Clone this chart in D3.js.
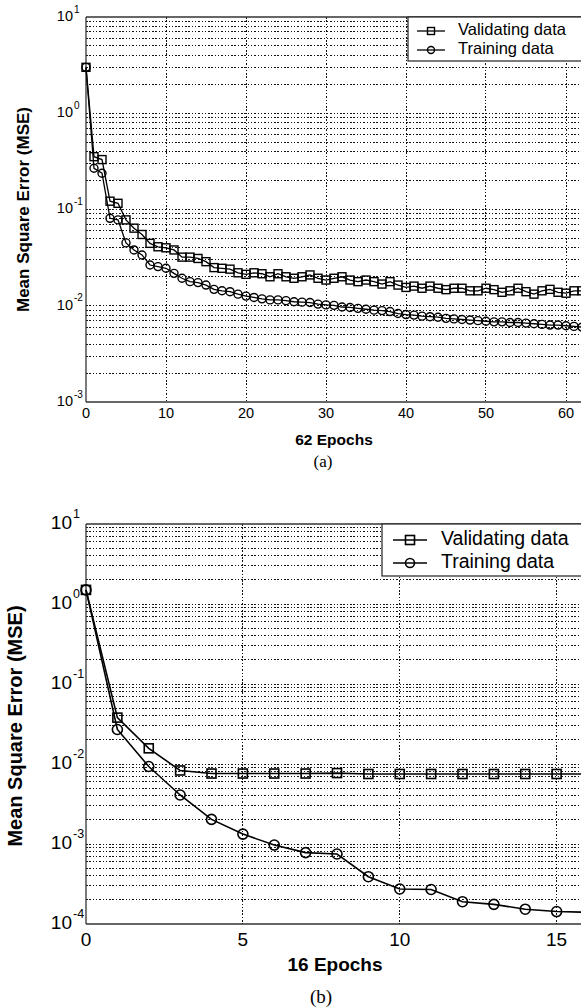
<!DOCTYPE html>
<html>
<head>
<meta charset="utf-8">
<script src="https://cdn.jsdelivr.net/npm/d3@7"></script>
<style>
  html, body { margin: 0; padding: 0; background: #fff; }
  svg { display: block; }
  text { font-family: "Liberation Sans", Arial, sans-serif; fill: #000; }
</style>
</head>
<body>
<svg id="fig" width="581" height="1007"></svg>
<script>
// ---- Panel (a): 62 epochs, MSE per epoch ----
const validA = [
  3.0, 0.354, 0.33, 0.122, 0.116, 0.078, 0.064, 0.055, 0.0445, 0.041,
  0.040, 0.038, 0.032, 0.032, 0.031, 0.0287, 0.0249, 0.0245, 0.024, 0.022,
  0.0212, 0.022, 0.0215, 0.020, 0.0215, 0.020, 0.0193, 0.020, 0.0209, 0.0193,
  0.0185, 0.0193, 0.020, 0.0185, 0.0178, 0.0185, 0.0178, 0.0168, 0.0178, 0.0164,
  0.0155, 0.016, 0.0152, 0.016, 0.0152, 0.0147, 0.0152, 0.0152, 0.0143, 0.0143,
  0.0152, 0.0147, 0.0138, 0.0143, 0.0152, 0.014, 0.0132, 0.0143, 0.0148, 0.0138,
  0.0135, 0.0143, 0.0143
];
const trainA = [
  3.0, 0.268, 0.238, 0.081, 0.078, 0.045, 0.038, 0.0337, 0.0265, 0.0255,
  0.0245, 0.0217, 0.0193, 0.0178, 0.0174, 0.0164, 0.0148, 0.0143, 0.014, 0.0132,
  0.0126, 0.0122, 0.0118, 0.0115, 0.0115, 0.0113, 0.011, 0.0109, 0.0108, 0.0104,
  0.0102, 0.0101, 0.0097, 0.0096, 0.0094, 0.0092, 0.009, 0.0089, 0.0087, 0.0083,
  0.0081, 0.008, 0.0078, 0.0077, 0.0076, 0.0074, 0.0073, 0.0072, 0.0071, 0.007,
  0.0069, 0.0068, 0.0068, 0.0067, 0.0067, 0.0066, 0.0065, 0.0064, 0.0063, 0.0063,
  0.0062, 0.0061, 0.006
];
const xTicksA = [0, 10, 20, 30, 40, 50, 60];
const yExpA = [1, 0, -1, -2, -3];

// ---- Panel (b): 16 epochs ----
const validB = [1.5, 0.038, 0.0157, 0.0083, 0.0076, 0.0076, 0.0076, 0.0076, 0.0077,
  0.0075, 0.0075, 0.0075, 0.0075, 0.0075, 0.0075, 0.0075, 0.0075];
const trainB = [1.5, 0.027, 0.0093, 0.0041, 0.00203, 0.00133, 0.00097, 0.00078, 0.00075,
  0.00039, 0.000274, 0.00027, 0.00019, 0.000176, 0.000153, 0.000143, 0.00014];
const xTicksB = [0, 5, 10, 15];
const yExpB = [1, 0, -1, -2, -3, -4];

const legendLabels = ["Validating data", "Training data"];
const yTitle = "Mean Square Error (MSE)";

const svg = d3.select("#fig");
const snap = v => Math.round(v - 0.5) + 0.5;

function drawPanel(o) {
  const g = svg.append("g");
  const x = d3.scaleLinear().domain(o.xDomain).range([o.left, o.right]);
  const y = d3.scaleLog().domain(o.yDomain).range([o.bottom, o.top]);

  // grid: all decade and intermediate log levels, dotted
  const yGrid = y.ticks().filter(v => v > o.yDomain[0] * 1.0001 && v < o.yDomain[1] * 0.9999);
  g.append("g").selectAll("line").data(yGrid).join("line")
    .attr("x1", o.left).attr("x2", o.right + 20)
    .attr("y1", d => snap(y(d))).attr("y2", d => snap(y(d)))
    .attr("stroke", "#111").attr("stroke-width", 1)
    .attr("stroke-dasharray", "1.5,1.8")
    .attr("shape-rendering", "crispEdges");
  g.append("g").selectAll("line").data(o.xTicks.filter(v => v > 0)).join("line")
    .attr("x1", d => snap(x(d))).attr("x2", d => snap(x(d)))
    .attr("y1", o.top).attr("y2", o.bottom)
    .attr("stroke", "#111").attr("stroke-width", 1)
    .attr("stroke-dasharray", "1.5,1.8")
    .attr("shape-rendering", "crispEdges");

  // frame
  const fr = g.append("g").attr("stroke", "#333").attr("stroke-width", 1.3);
  fr.append("line").attr("x1", o.left).attr("x2", o.right + 20)
    .attr("y1", o.top).attr("y2", o.top);
  fr.append("line").attr("x1", o.left).attr("x2", o.right + 20)
    .attr("y1", o.bottom).attr("y2", o.bottom);
  fr.append("line").attr("x1", o.left).attr("x2", o.left)
    .attr("y1", o.top).attr("y2", o.bottom);

  // x tick labels
  g.append("g").selectAll("text").data(o.xTicks).join("text")
    .attr("x", d => x(d)).attr("y", o.bottom + o.xTickDy)
    .attr("text-anchor", "middle").attr("dominant-baseline", "middle")
    .style("font-size", o.tickSize + "px")
    .text(d => d);

  // y tick labels: 10 with raised exponent
  const yl = g.append("g").selectAll("g").data(o.yExp).join("g")
    .attr("transform", d => `translate(${o.left - o.yLabelGap},${y(Math.pow(10, d))})`);
  yl.append("text").attr("text-anchor", "end").attr("dominant-baseline", "middle")
    .style("font-size", o.tickSize + "px").text("10");
  yl.append("text").attr("x", 1).attr("y", -o.supRaise)
    .attr("dominant-baseline", "middle")
    .style("font-size", o.supSize + "px").text(d => d < 0 ? "-" + Math.abs(d) : d);

  // axis titles
  g.append("text")
    .attr("transform", `translate(${o.yTitleX},${(o.top + o.bottom) / 2 + o.yTitleDy}) rotate(-90)`)
    .attr("text-anchor", "middle").attr("dominant-baseline", "middle")
    .style("font-size", o.titleSize + "px").style("font-weight", "bold")
    .text(yTitle);
  g.append("text")
    .attr("x", o.xTitleX).attr("y", o.bottom + o.xTitleDy)
    .attr("text-anchor", "middle").attr("dominant-baseline", "middle")
    .style("font-size", o.xTitleSize + "px").style("font-weight", "bold")
    .text(o.xTitle);
  g.append("text")
    .attr("x", o.capX).attr("y", o.bottom + o.capDy)
    .attr("text-anchor", "middle").attr("dominant-baseline", "middle")
    .style("font-family", "'Liberation Serif', 'Times New Roman', serif")
    .style("font-size", o.capSize + "px")
    .text(o.caption);

  // series
  const line = d3.line().x((d, i) => x(i)).y(d => y(d));
  const series = [
    { values: o.valid, shape: "square" },
    { values: o.train, shape: "circle" }
  ];
  series.forEach(s => {
    g.append("path").datum(s.values).attr("d", line)
      .attr("fill", "none").attr("stroke", "#000").attr("stroke-width", o.lineW);
  });
  series.forEach(s => {
    const m = g.append("g").selectAll(s.shape === "square" ? "rect" : "circle")
      .data(s.values).join(s.shape === "square" ? "rect" : "circle");
    if (s.shape === "square") {
      m.attr("x", (d, i) => x(i) - o.sq / 2).attr("y", d => y(d) - o.sq / 2)
        .attr("width", o.sq).attr("height", o.sq);
    } else {
      m.attr("cx", (d, i) => x(i)).attr("cy", d => y(d)).attr("r", o.cr);
    }
    m.attr("fill", "none").attr("stroke", "#000").attr("stroke-width", o.markW);
  });

  // legend
  const lg = g.append("g");
  lg.append("rect").attr("x", o.legX).attr("y", o.top)
    .attr("width", 300).attr("height", o.legH)
    .attr("fill", "#fff").attr("stroke", "#222").attr("stroke-width", 1.2);
  legendLabels.forEach((lab, k) => {
    const ly = o.top + o.legRow0 + k * o.legRowStep;
    lg.append("line").attr("x1", o.legLine0).attr("x2", o.legLine1)
      .attr("y1", ly).attr("y2", ly).attr("stroke", "#000").attr("stroke-width", o.lineW);
    const cx = (o.legLine0 + o.legLine1) / 2;
    if (k === 0) {
      lg.append("rect").attr("x", cx - o.legSq / 2).attr("y", ly - o.legSq / 2)
        .attr("width", o.legSq).attr("height", o.legSq)
        .attr("fill", "none").attr("stroke", "#000").attr("stroke-width", o.markW);
    } else {
      lg.append("circle").attr("cx", cx).attr("cy", ly).attr("r", o.legSq / 2)
        .attr("fill", "none").attr("stroke", "#000").attr("stroke-width", o.markW);
    }
    lg.append("text").attr("x", o.legText).attr("y", ly)
      .attr("dominant-baseline", "middle")
      .style("font-size", o.legSize + "px").text(lab);
  });
}

drawPanel({
  valid: validA, train: trainA, xTicks: xTicksA, yExp: yExpA,
  xDomain: [0, 62], yDomain: [1e-3, 10],
  left: 86, right: 582, top: 17, bottom: 402,
  tickSize: 14.5, supSize: 10, supRaise: 7, yLabelGap: 13, xTickDy: 12,
  titleSize: 17, yTitleX: 25, yTitleDy: 0,
  xTitle: "62 Epochs", xTitleSize: 15.5, xTitleX: 334, xTitleDy: 39,
  caption: "(a)", capX: 323, capDy: 61, capSize: 17,
  lineW: 1.3, markW: 1.4, sq: 8, cr: 4,
  legX: 408, legH: 44, legRow0: 14, legRowStep: 19,
  legLine0: 417, legLine1: 445, legSq: 7, legText: 458, legSize: 16.5
});

drawPanel({
  valid: validB, train: trainB, xTicks: xTicksB, yExp: yExpB,
  xDomain: [0, 16], yDomain: [1e-4, 10],
  left: 86, right: 588, top: 524, bottom: 924,
  tickSize: 19, supSize: 12.5, supRaise: 9, yLabelGap: 14, xTickDy: 17,
  titleSize: 20, yTitleX: 17, yTitleDy: 2,
  xTitle: "16 Epochs", xTitleSize: 19, xTitleX: 335, xTitleDy: 42,
  caption: "(b)", capX: 321, capDy: 75, capSize: 19,
  lineW: 1.6, markW: 1.6, sq: 9, cr: 5,
  legX: 382, legH: 52, legRow0: 16, legRowStep: 23,
  legLine0: 393, legLine1: 427, legSq: 9, legText: 441, legSize: 19.5
});
</script>
</body>
</html>
